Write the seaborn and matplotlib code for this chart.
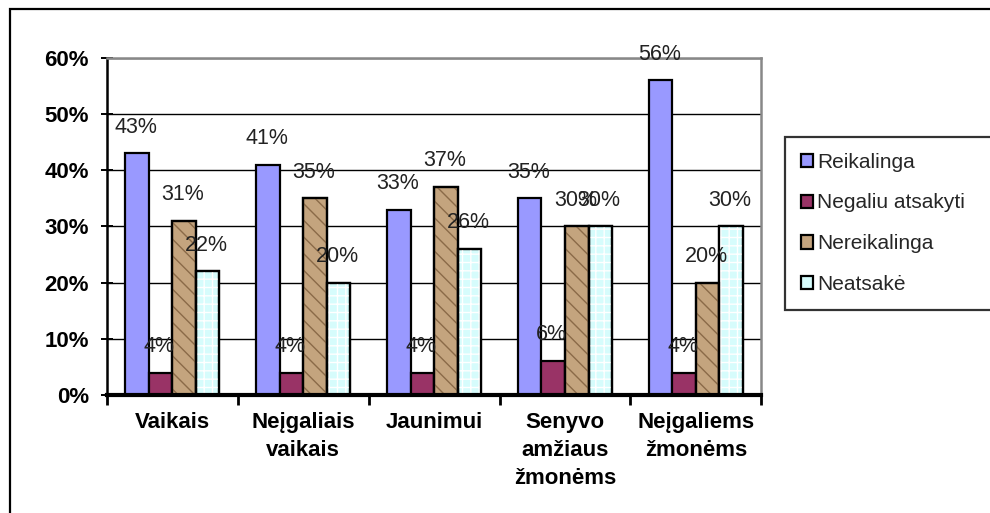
import matplotlib
matplotlib.use("Agg")
import matplotlib.pyplot as plt
import matplotlib.patches as mpatches
from matplotlib.ticker import FixedLocator, FuncFormatter
import seaborn as sns
import pandas as pd

categories = ["Vaikais", "Neįgaliais\nvaikais", "Jaunimui",
              "Senyvo\namžiaus\nžmonėms", "Neįgaliems\nžmonėms"]
series = ["Reikalinga", "Negaliu atsakyti", "Nereikalinga", "Neatsakė"]
reikalinga = [43, 41, 33, 35, 56]
negaliu_atsakyti = [4, 4, 4, 6, 4]
nereikalinga = [31, 35, 37, 30, 20]
neatsake = [22, 20, 26, 30, 30]
y_ticks = [0, 10, 20, 30, 40, 50, 60]

values = [reikalinga, negaliu_atsakyti, nereikalinga, neatsake]
rows = []
for s, vals in zip(series, values):
    for c, v in zip(categories, vals):
        rows.append({"category": c, "series": s, "value": v})
df = pd.DataFrame(rows)

colors = ["#9999FF", "#993366", "#C4A47E", "#D6FCFC"]
overlay = [None, None, ("#8A6A48", "\\\\"), ("#FFFFFF", "++")]

sns.set_theme(style="white")
plt.rcParams["font.family"] = ["Liberation Sans", "DejaVu Sans"]

fig = plt.figure(figsize=(9.9, 5.13), dpi=100)
ax = fig.add_axes([0.108, 0.230, 0.661, 0.657])

sns.barplot(data=df, x="category", y="value", hue="series",
            hue_order=series, order=categories, palette=colors,
            width=0.72, edgecolor="black", linewidth=1.6,
            saturation=1, ax=ax, legend=True)

# texture overlays and value labels
for cont, s, ov in zip(ax.containers, series, overlay):
    for bar, v in zip(cont, df[df.series == s]["value"]):
        if ov is not None:
            hc, hp = ov
            ax.add_patch(mpatches.Rectangle(
                (bar.get_x(), 0), bar.get_width(), bar.get_height(),
                facecolor="none", edgecolor=hc, hatch=hp, linewidth=0,
                zorder=bar.get_zorder() + 0.1))
            ax.add_patch(mpatches.Rectangle(
                (bar.get_x(), 0), bar.get_width(), bar.get_height(),
                facecolor="none", edgecolor="black", linewidth=1.6,
                zorder=bar.get_zorder() + 0.2))
        ax.annotate(f"{v}%", (bar.get_x() + bar.get_width() / 2, v),
                    xytext=(-1, 19), textcoords="offset points",
                    ha="center", va="center", fontsize=15.5,
                    color="#222222", zorder=10)

ax.set_ylim(0, 60)
ax.set_xlim(-0.5, 4.5)
ax.yaxis.set_major_locator(FixedLocator(y_ticks))
ax.yaxis.set_major_formatter(FuncFormatter(lambda v, p: f"{v:.0f}%"))
ax.grid(axis="y", color="black", linewidth=1.0)
ax.set_axisbelow(True)

ax.tick_params(axis="y", direction="inout", length=8, width=1.4,
               labelsize=16, pad=9, left=True, colors="black")
for lab in ax.get_yticklabels():
    lab.set_fontweight("bold")

ax.set_xticks(range(len(categories)))
ax.set_xticklabels(categories, fontweight="bold", fontsize=16,
                   linespacing=1.45)
ax.tick_params(axis="x", which="major", length=0, pad=12, labelcolor="black")
ax.set_xticks([i - 0.5 for i in range(len(categories) + 1)], minor=True)
ax.tick_params(axis="x", which="minor", direction="out", length=7,
               width=2, bottom=True, color="black")

ax.set_xlabel("")
ax.set_ylabel("")
for side in ["top", "right"]:
    ax.spines[side].set_visible(True)
    ax.spines[side].set_color("#888888")
    ax.spines[side].set_linewidth(1.8)
ax.spines["left"].set_color("black")
ax.spines["left"].set_linewidth(1.8)
ax.spines["bottom"].set_color("black")
ax.spines["bottom"].set_linewidth(3)

# legend
handles, labels = ax.get_legend_handles_labels()
ax.get_legend().remove()
leg = fig.legend(handles, labels, loc="upper left",
                 bbox_to_anchor=(0.793, 0.392, 0.4, 0.341),
                 mode="expand", fontsize=15, frameon=True,
                 handlelength=0.6, handleheight=0.6, handletextpad=0.2,
                 labelspacing=1.05, borderpad=0.75, fancybox=False,
                 borderaxespad=0)
leg.get_frame().set_edgecolor("black")
leg.get_frame().set_linewidth(1.6)
for h in leg.legend_handles:
    h.set_edgecolor("black")
    h.set_linewidth(1.6)

# outer chart border
fig.add_artist(mpatches.Rectangle((10 / 990, -0.2), 1.2, 1.2 - 9 / 513,
                                  transform=fig.transFigure, fill=False,
                                  edgecolor="black", linewidth=1.6))

fig.savefig("out.png", dpi=100)
